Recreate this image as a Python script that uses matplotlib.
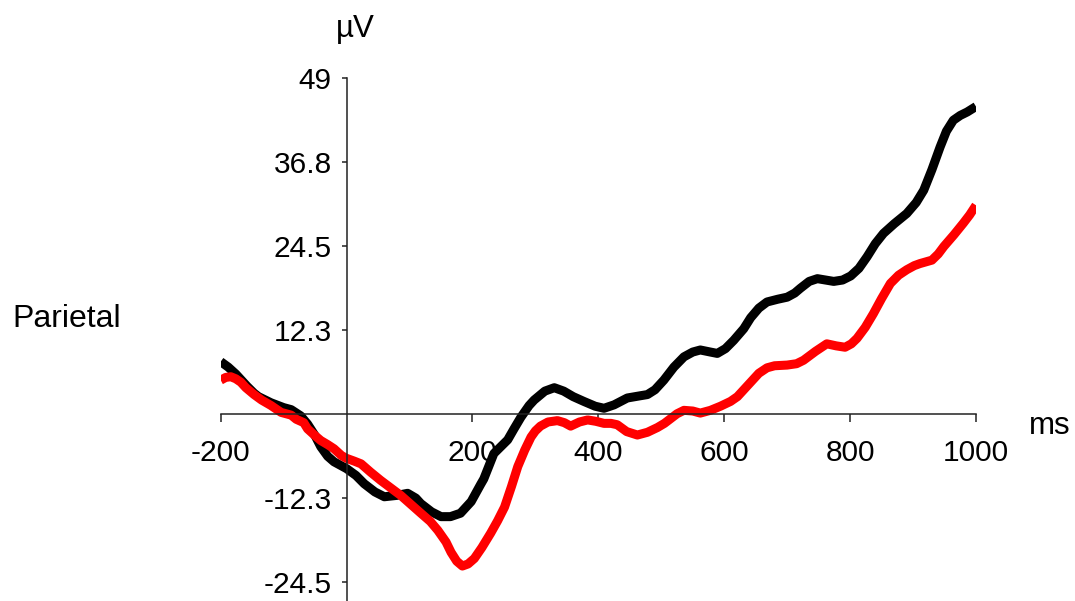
import matplotlib
matplotlib.use("Agg")
import matplotlib.pyplot as plt

plt.rcParams['font.family'] = ['Liberation Sans', 'DejaVu Sans']

# --- data (ms, µV) ---
black_ms = [-200, -188, -176, -165, -158, -147, -140, -120, -100, -88, -73, -62, -50, -41, -30, -20, 0, 15, 28, 45, 60,
            80, 97, 110, 118, 135, 150, 165, 181, 198, 213, 218, 234, 245, 256, 266, 277, 290, 298,
            315, 330, 345, 360, 377, 395, 409, 425, 446, 465, 478, 490, 504, 520, 536, 550, 562,
            578, 589, 602, 615, 631, 642, 655, 668, 685, 700, 712, 721, 735, 748, 761, 774, 788,
            801, 814, 827, 840, 853, 870, 890, 905, 917, 930, 943, 953, 964, 975, 986, 1000]
black_uv = [7.6, 6.8, 5.8, 4.7, 4.0, 3.0, 2.5, 1.6, 0.9, 0.6, -0.3, -1.5, -3.2, -4.8, -6.2, -7.0, -8.0, -9.0, -10.2,
            -11.4, -12.1, -11.9, -11.6, -12.3, -13.1, -14.3, -15.0, -15.0, -14.5, -12.8, -10.3, -9.5,
            -5.8, -4.8, -3.8, -2.2, -0.5, 1.2, 2.0, 3.3, 3.8, 3.3, 2.5, 1.8, 1.1, 0.8, 1.3, 2.3, 2.6,
            2.8, 3.5, 4.9, 6.8, 8.3, 9.0, 9.3, 9.0, 8.8, 9.5, 10.7, 12.4, 14.0, 15.4, 16.3, 16.7, 17.0,
            17.6, 18.3, 19.3, 19.7, 19.5, 19.3, 19.5, 20.1, 21.2, 22.9, 24.8, 26.3, 27.7, 29.2, 30.8,
            32.6, 35.6, 38.9, 41.2, 42.8, 43.5, 44.0, 44.8]

red_ms = [-200, -192, -184, -176, -168, -160, -147, -135, -120, -104, -88, -80, -68, -62, -50, -41,
          -30, -20, -8, 0, 12, 23, 38, 54, 70, 86, 102, 118, 133, 145, 158, 166, 175, 184, 193, 203,
          215, 229, 240, 251, 262, 272, 283, 293, 300, 308, 320, 335, 346, 356, 370, 383, 396, 409,
          420, 430, 445, 462, 478, 494, 505, 515, 525, 536, 550, 562, 578, 594, 610, 621, 632, 642,
          655, 668, 680, 700, 715, 726, 745, 763, 778, 792, 802, 811, 824, 837, 850, 864, 877, 890,
          902, 911, 930, 940, 949, 965, 980, 990, 1000]
red_uv = [4.9, 5.3, 5.4, 5.1, 4.6, 3.8, 2.8, 2.0, 1.2, 0.2, -0.2, -0.8, -1.3, -2.2, -3.2, -3.9, -4.5,
          -5.1, -6.1, -6.5, -6.9, -7.3, -8.5, -9.7, -10.8, -11.9, -13.2, -14.5, -15.7, -17.0, -18.7,
          -20.2, -21.5, -22.2, -21.9, -21.1, -19.5, -17.4, -15.6, -13.6, -10.6, -7.7, -5.3, -3.4,
          -2.5, -1.8, -1.2, -1.0, -1.3, -1.8, -1.2, -0.9, -1.1, -1.4, -1.4, -1.6, -2.6, -3.1, -2.7,
          -2.0, -1.4, -0.7, 0.0, 0.5, 0.4, 0.1, 0.5, 1.1, 1.8, 2.5, 3.6, 4.6, 5.9, 6.7, 7.0, 7.1, 7.3,
          7.8, 9.1, 10.2, 9.9, 9.7, 10.2, 11.0, 12.6, 14.6, 16.8, 19.0, 20.2, 21.0, 21.6, 21.9, 22.4,
          23.3, 24.4, 26.1, 27.8, 29.0, 30.4]

x_ticks = [-200, 200, 400, 600, 800, 1000]
x_tick_labels = ['-200', '200', '400', '600', '800', '1000']
y_ticks = [49, 36.75, 24.5, 12.25, -12.25, -24.5]
y_tick_labels = ['49', '36.8', '24.5', '12.3', '-12.3', '-24.5']

fig = plt.figure(figsize=(10.75, 6.01), dpi=100)
ax = fig.add_axes([0.2053, 0.0, 0.7026, 0.8707])

ax.plot(black_ms, black_uv, color='black', lw=6.5, solid_joinstyle='round', solid_capstyle='butt')
ax.plot(red_ms, red_uv, color='#ff0000', lw=6.5, solid_joinstyle='round', solid_capstyle='butt')

ax.set_xlim(-200, 1000)
ax.set_ylim(-27.3, 49)

for s in ['top', 'right']:
    ax.spines[s].set_visible(False)
ax.spines['left'].set_position(('data', 0))
ax.spines['bottom'].set_position(('data', 0))
for s in ['left', 'bottom']:
    ax.spines[s].set_color('#222222')
    ax.spines[s].set_linewidth(1.1)

ax.set_xticks(x_ticks)
ax.set_xticklabels(x_tick_labels)
ax.set_yticks(y_ticks)
ax.set_yticklabels(y_tick_labels)
ax.tick_params(axis='x', direction='out', length=6, width=1.1, color='#222222', pad=12, labelsize=21.5)
ax.tick_params(axis='y', direction='out', length=3.6, width=1.1, color='#222222', pad=7, labelsize=21.5)
ax.patch.set_visible(False)

fig.text(12 / 1075, 1 - 326.7 / 601, 'Parietal', fontsize=23, ha='left', va='baseline')
fig.text(1029 / 1075, 1 - 434 / 601, 'ms', fontsize=22.5, ha='left', va='baseline')
fig.text(336 / 1075, 1 - 37 / 601, 'µV', fontsize=22.5, ha='left', va='baseline')

fig.savefig('out.png', dpi=100)
